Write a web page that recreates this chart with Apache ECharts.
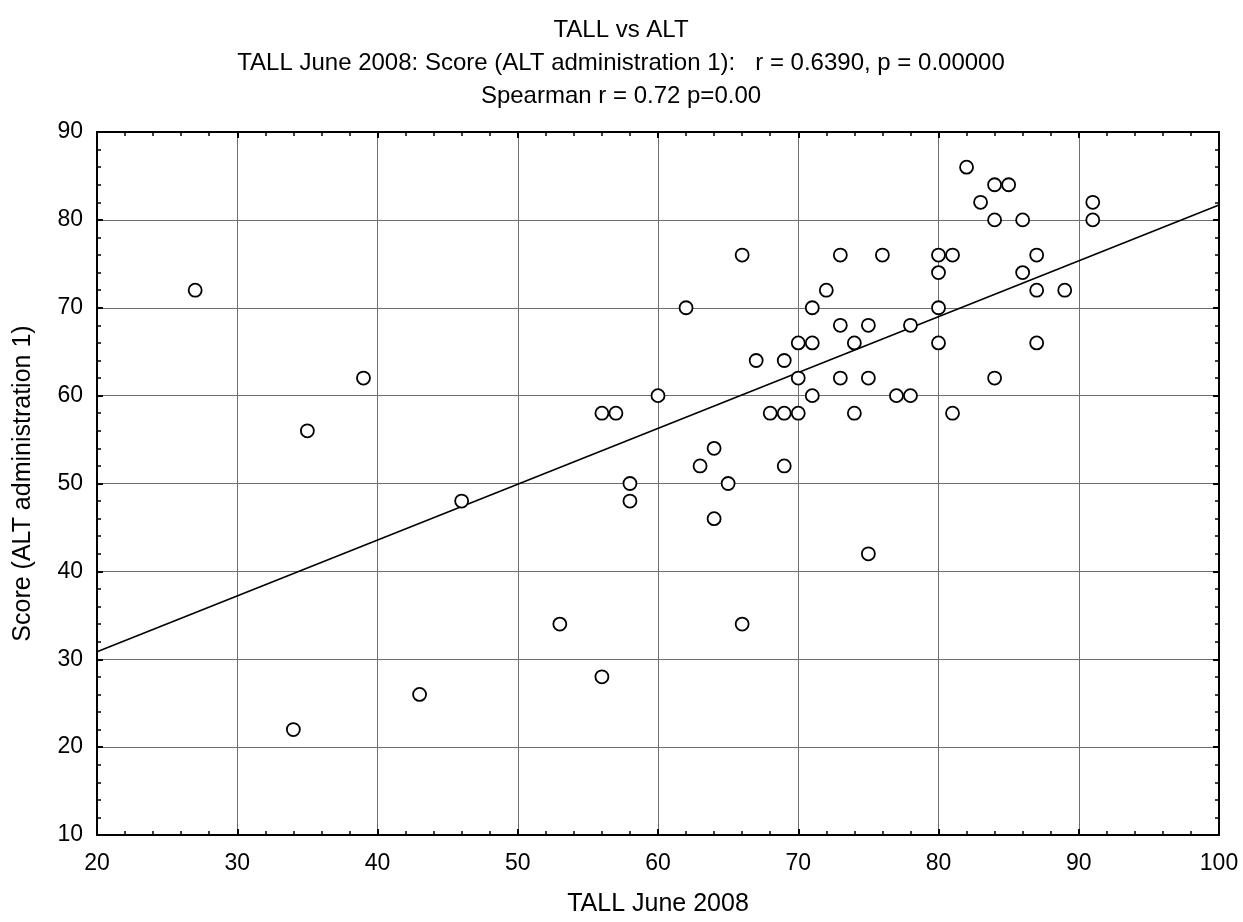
<!DOCTYPE html>
<html>
<head>
<meta charset="utf-8">
<script src="https://cdn.jsdelivr.net/npm/echarts@6/dist/echarts.min.js"></script>
<style>
  html, body { margin: 0; padding: 0; background: #fff; }
  #chart { width: 1243px; height: 922px; }
</style>
</head>
<body>
<div id="chart"></div>
<script>
// TALL June 2008 score (x) against ALT administration 1 score (y), one entry per student
const tallScores = [27, 34, 35, 39, 43, 46, 53, 56, 56, 57,
                    58, 58, 60, 62, 63, 64, 64, 65, 66, 66,
                    67, 68, 69, 69, 69, 70, 70, 70, 71, 71,
                    71, 72, 73, 73, 73, 74, 74, 75, 75, 75,
                    76, 77, 78, 78, 80, 80, 80, 80, 81, 81,
                    82, 83, 84, 84, 84, 85, 86, 86, 87, 87,
                    87, 89, 91, 91];
const altScores  = [72, 22, 56, 62, 26, 48, 34, 28, 58, 58,
                    50, 48, 60, 70, 52, 54, 46, 50, 76, 34,
                    64, 58, 64, 58, 52, 66, 62, 58, 70, 66,
                    60, 72, 76, 68, 62, 66, 58, 68, 62, 42,
                    76, 60, 68, 60, 76, 74, 70, 66, 76, 58,
                    86, 82, 84, 80, 62, 84, 80, 74, 76, 72,
                    66, 72, 82, 80];

const xTicks = { min: 20, max: 100, step: 10 };
const yTicks = { min: 10, max: 90, step: 10 };

const titleLines = [
  'TALL vs ALT',
  'TALL June 2008: Score (ALT administration 1):   r = 0.6390, p = 0.00000',
  'Spearman r = 0.72 p=0.00'
];
const xName = 'TALL June 2008';
const yName = 'Score (ALT administration 1)';

// least-squares line through the points
function linearFit(xs, ys) {
  const n = xs.length;
  const mx = xs.reduce((a, b) => a + b, 0) / n;
  const my = ys.reduce((a, b) => a + b, 0) / n;
  let sxy = 0, sxx = 0;
  for (let i = 0; i < n; i++) {
    sxy += (xs[i] - mx) * (ys[i] - my);
    sxx += (xs[i] - mx) * (xs[i] - mx);
  }
  const slope = sxy / sxx;
  return { slope, intercept: my - slope * mx };
}
const fit = linearFit(tallScores, altScores);
const fitLine = [xTicks.min, xTicks.max].map(x => [x, fit.intercept + fit.slope * x]);

const points = tallScores.map((x, i) => [x, altScores[i]]);

const FONT = 'Liberation Sans, Arial, sans-serif';
const TEXT_SIZE = 24;

function frameAxis(pos, range, withLabels, name, nameGap) {
  return {
    type: 'value',
    position: pos,
    min: range.min,
    max: range.max,
    interval: range.step,
    name: withLabels ? name : '',
    nameLocation: 'middle',
    nameGap: nameGap,
    nameTextStyle: { color: '#000', fontSize: 25, fontFamily: FONT },
    axisLine: { show: true, onZero: false, lineStyle: { color: '#000', width: 2 } },
    axisTick: { show: true, inside: true, length: 6, lineStyle: { color: '#000', width: 2 } },
    minorTick: { show: true, splitNumber: 5, length: 4, lineStyle: { color: '#000', width: 1.5 } },
    splitLine: { show: withLabels, lineStyle: { color: '#6e6e6e', width: 1 } },
    axisLabel: {
      show: withLabels, color: '#000', fontSize: 23, fontFamily: FONT,
      margin: (pos === 'bottom') ? 17 : 14
    }
  };
}

const chart = echarts.init(document.getElementById('chart'), null, { renderer: 'canvas' });
chart.setOption({
  animation: false,
  backgroundColor: '#fff',
  graphic: titleLines.map((line, i) => ({
    type: 'text',
    x: 621,
    y: [30, 63, 96][i],
    silent: true,
    style: {
      text: line,
      fill: '#000',
      font: TEXT_SIZE + 'px ' + FONT,
      textAlign: 'center',
      textVerticalAlign: 'middle'
    }
  })),
  grid: { left: 97, right: 24, top: 132, bottom: 84, containLabel: false },
  xAxis: [
    frameAxis('bottom', xTicks, true, xName, 57),
    frameAxis('top', xTicks, false, '', 0)
  ],
  yAxis: [
    frameAxis('left', yTicks, true, yName, 61),
    frameAxis('right', yTicks, false, '', 0)
  ],
  series: [
    {
      type: 'line',
      data: fitLine,
      xAxisIndex: 0, yAxisIndex: 0,
      symbol: 'none',
      lineStyle: { color: '#000', width: 1.6 },
      z: 2,
      silent: true
    },
    {
      type: 'scatter',
      data: points,
      xAxisIndex: 0, yAxisIndex: 0,
      symbol: 'circle',
      symbolSize: 13,
      itemStyle: { color: '#fff', borderColor: '#000', borderWidth: 1.8, opacity: 1 },
      z: 3
    }
  ]
});
</script>
</body>
</html>
